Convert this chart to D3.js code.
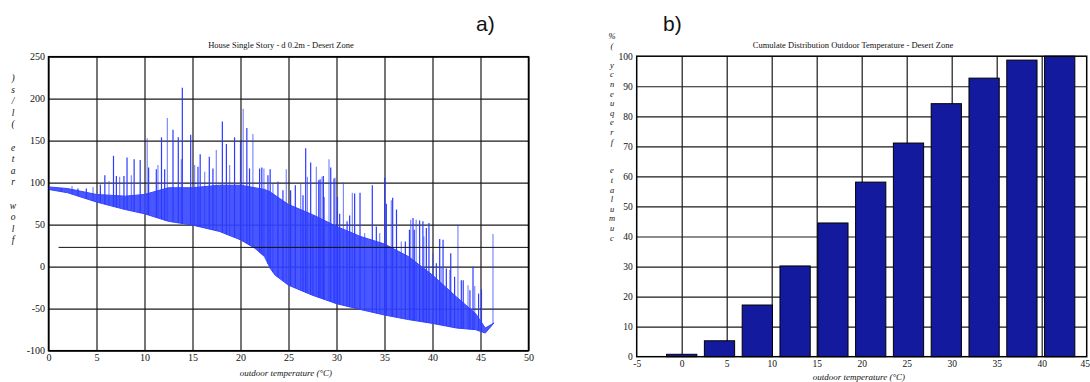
<!DOCTYPE html>
<html>
<head>
<meta charset="utf-8">
<script src="https://cdn.jsdelivr.net/npm/d3@7"></script>
<style>
  body { margin: 0; background: #fff; }
  text { font-family: "Liberation Serif", "DejaVu Serif", serif; fill: #111; }
  .panel-tag { font-family: "Liberation Sans", Arial, sans-serif; font-size: 21px; }
  .grid line { stroke: #1a1a1a; stroke-width: 1.2; }
  .grid path { display: none; }
  .ticks path, .ticks line { display: none; }
</style>
</head>
<body>
<div id="chart"></div>
<script>
// ---- panel a) flow rate vs outdoor temperature ----
// lower envelope of the flow curve
const envT = [0, 2, 5, 8, 10, 12.5, 15, 17.8, 20, 21.5, 22.5, 23.1, 23.6, 25, 27.5, 30, 32.5, 35, 37.5, 40, 42.5, 44.5, 45.5, 46.4];
const envV = [92, 88, 77, 68, 63, 54, 49.5, 42, 32, 22, 12, -2, -10, -22, -34, -44, -51, -57.5, -63, -67.5, -73, -75, -79, -67];
// top of the dense band of oscillations
const bandV = [95, 93, 86, 84, 86, 94, 94, 97, 97, 94, 92, 89, 85, 74, 62, 48, 36, 27, 12, -10, -36, -56, -73, -67];
// spikes (temperature, peak flow)
const spikeT = [1.34, 2.45, 3.07, 3.94, 4.64, 5.4, 5.87, 6.3, 6.77, 7.07, 7.41, 7.86, 8.18, 8.63, 8.92, 9.55, 10.28, 10.43, 11.23, 11.4, 11.77, 12.1, 12.38,
  12.97, 13.52, 13.84, 13.94, 14.81, 15.22, 15.57, 15.8, 16.27, 16.75, 17.13, 17.48, 18.11, 18.53, 18.87, 19.38, 20.0, 20.28, 20.66, 20.94, 21.29, 21.99, 22.22, 22.44, 22.86, 23.09, 23.38, 23.9, 24.42, 24.77,
  25.22, 25.71, 26.27, 26.51, 26.79, 26.97, 27.31, 27.55, 27.9, 28.15, 28.29, 28.49, 28.63, 28.7, 29.22, 29.4, 29.74, 29.85, 30.1, 30.33, 30.72, 31.1, 31.37, 31.65, 31.89, 32.45, 32.93, 33.73, 34.15, 34.5, 35.02, 35.19, 35.71, 35.85, 36.25, 36.75, 37.17,
  37.6, 37.73, 37.97, 38.1, 38.3, 38.66, 39.0, 39.1, 39.36, 39.63, 40.05, 40.4, 40.75, 40.9, 41.1, 41.44, 41.8, 41.9, 42.3, 42.65, 43.0, 43.2, 43.7, 43.9, 44.22, 44.4, 44.8, 45.1, 46.3];
const spikeV = [93, 96, 93, 93, 95, 98, 109, 102, 132, 108, 107, 108, 130, 109, 128, 127, 153, 118, 116, 121, 154, 116, 177,
  163, 154, 128, 213, 157, 121, 119, 134, 113, 131, 117, 139, 173, 146, 121, 154, 149, 188, 165, 117, 158, 117, 118, 117, 109, 116, 99, 101, 91, 116,
  91, 97, 99, 85, 141, 107, 124, 60, 119, 103, 104, 107, 108, 83, 128, 118, 105, 106, 83, 63, 100, 54, 61, 88, 87, 88, 40, 97, 48, 40, 106, 75, 79, 82, 68, 30, 30,
  44, 56, 58, 44, 56, 55, 54, 36, 46, 52, 16, 4, 33, 0, 32, -2, -4, 16, -12, 50, -16, -16, -22, -28, 0, -23, -32, -27, 39];
// horizontal reference line
const refT = [1.05, 50];
const refV = [23, 23];
const xTicksA = [0, 5, 10, 15, 20, 25, 30, 35, 40, 45, 50];
const yTicksA = [-100, -50, 0, 50, 100, 150, 200, 250];

// ---- panel b) cumulative distribution ----
const binCenters = [0, 4.2, 8.4, 12.6, 16.8, 21.0, 25.2, 29.4, 33.6, 37.8, 42.0];
const cumFreq = [0.8, 5.3, 17.2, 30.2, 44.5, 58.1, 71.1, 84.2, 92.7, 98.7, 100];
const xTicksB = [-5, 0, 5, 10, 15, 20, 25, 30, 35, 40, 45];
const yTicksB = [0, 10, 20, 30, 40, 50, 60, 70, 80, 90, 100];

const plain = d => String(d); // hyphen minus, like the original

const svg = d3.select('#chart').append('svg')
  .attr('width', 1090)
  .attr('height', 382)
  .style('background', '#fff');

// ===== panel a =====
const xA = d3.scaleLinear().domain([0, 50]).range([48.5, 528.5]);
const yA = d3.scaleLinear().domain([-100, 250]).range([350.7, 56.7]);

// grid
svg.append('g').attr('class', 'grid')
  .attr('transform', 'translate(0,350.7)')
  .call(d3.axisBottom(xA).tickValues(xTicksA).tickSize(-(350.7 - 56.7)).tickFormat(''));
svg.append('g').attr('class', 'grid')
  .attr('transform', 'translate(48.5,0)')
  .call(d3.axisLeft(yA).tickValues(yTicksA).tickSize(-(528.5 - 48.5)).tickFormat(''));

// data
const envScale = d3.scaleLinear().domain(envT).range(envV);
const band = d3.area()
  .x((d, i) => xA(envT[i]))
  .y0((d, i) => yA(envV[i]))
  .y1((d, i) => yA(bandV[i]));

svg.append('path')
  .datum(envT)
  .attr('d', band)
  .attr('fill', '#3545ff')
  .attr('fill-opacity', 0.9)
  .attr('stroke', '#3545ff')
  .attr('stroke-width', 1);

svg.append('g').selectAll('line')
  .data(spikeT)
  .join('line')
  .attr('x1', d => xA(d))
  .attr('x2', d => xA(d))
  .attr('y1', d => yA(envScale(d)))
  .attr('y2', (d, i) => yA(spikeV[i]))
  .attr('stroke', '#2b3aff')
  .attr('stroke-opacity', (d, i) => i % 3 === 1 ? 0.6 : 1)
  .attr('stroke-width', 1.2);

// reference line
svg.append('path')
  .datum(refT)
  .attr('d', d3.line().x(d => xA(d)).y((d, i) => yA(refV[i])))
  .attr('stroke', '#111')
  .attr('stroke-width', 1)
  .attr('fill', 'none');

// frame
svg.append('rect')
  .attr('x', 48.5).attr('y', 56.7)
  .attr('width', 480).attr('height', 294)
  .attr('fill', 'none').attr('stroke', '#000').attr('stroke-width', 1.5);

// tick labels
svg.append('g').attr('class', 'ticks')
  .attr('transform', 'translate(0,350.7)')
  .call(d3.axisBottom(xA).tickValues(xTicksA).tickFormat(plain).tickSize(0).tickPadding(3))
  .selectAll('text').style('font-size', '10px').attr('fill', '#111');
svg.append('g').attr('class', 'ticks')
  .attr('transform', 'translate(48.5,0)')
  .call(d3.axisLeft(yA).tickValues(yTicksA).tickFormat(plain).tickSize(0).tickPadding(3.5))
  .selectAll('text').style('font-size', '10px').attr('fill', '#111');

svg.append('text')
  .attr('x', 281).attr('y', 48)
  .attr('text-anchor', 'middle')
  .style('font-size', '8.5px')
  .text('House Single Story - d 0.2m - Desert Zone');
svg.append('text')
  .attr('x', 286).attr('y', 375.5)
  .attr('text-anchor', 'middle')
  .style('font-size', '9px').style('font-style', 'italic')
  .text('outdoor temperature (°C)');

// stacked y label (drawn reversed, like the original)
const labelA = ')s/l( etar wolf'.split('');
svg.append('g').selectAll('text')
  .data(labelA)
  .join('text')
  .attr('x', 13)
  .attr('y', (d, i) => 81 + i * 11.6)
  .attr('text-anchor', 'middle')
  .style('font-size', '9.5px').style('font-style', 'italic')
  .text(d => d);

svg.append('text').attr('class', 'panel-tag')
  .attr('x', 476).attr('y', 31).text('a)');

// ===== panel b =====
const xB = d3.scaleLinear().domain([-5, 45]).range([636.7, 1086.7]);
const yB = d3.scaleLinear().domain([0, 100]).range([356.7, 56.2]);

svg.append('g').attr('class', 'grid')
  .attr('transform', 'translate(0,356.7)')
  .call(d3.axisBottom(xB).tickValues(xTicksB.slice(1, -1)).tickSize(-(356.7 - 56.2)).tickFormat(''));
svg.append('g').attr('class', 'grid')
  .attr('transform', 'translate(636.7,0)')
  .call(d3.axisLeft(yB).tickValues(yTicksB.slice(1, -1)).tickSize(-450).tickFormat(''));

const barW = xB(3.36) - xB(0);
svg.append('g').selectAll('rect')
  .data(binCenters)
  .join('rect')
  .attr('x', d => xB(d) - barW / 2)
  .attr('width', barW)
  .attr('y', (d, i) => yB(cumFreq[i]))
  .attr('height', (d, i) => yB(0) - yB(cumFreq[i]))
  .attr('fill', '#141a9e')
  .attr('stroke', '#000')
  .attr('stroke-width', 1);

svg.append('rect')
  .attr('x', 636.7).attr('y', 56.2)
  .attr('width', 450).attr('height', 300.5)
  .attr('fill', 'none').attr('stroke', '#000').attr('stroke-width', 1.5);

svg.append('g').attr('class', 'ticks')
  .attr('transform', 'translate(0,356.7)')
  .call(d3.axisBottom(xB).tickValues(xTicksB).tickFormat(plain).tickSize(0).tickPadding(4))
  .selectAll('text').style('font-size', '9.5px').attr('fill', '#111')
  .attr('dx', d => d === 45 ? -2 : 0);
svg.append('g').attr('class', 'ticks')
  .attr('transform', 'translate(636.7,0)')
  .call(d3.axisLeft(yB).tickValues(yTicksB).tickFormat(plain).tickSize(0).tickPadding(4))
  .selectAll('text').style('font-size', '9.5px').attr('fill', '#111');

svg.append('text')
  .attr('x', 853).attr('y', 48)
  .attr('text-anchor', 'middle')
  .style('font-size', '8.5px')
  .text('Cumulate Distribution Outdoor Temperature - Desert Zone');
svg.append('text')
  .attr('x', 859).attr('y', 380)
  .attr('text-anchor', 'middle')
  .style('font-size', '9px').style('font-style', 'italic')
  .text('outdoor temperature (°C)');

const labelB = '%( ycneuqerf  etalumuc'.split('');
svg.append('g').selectAll('text')
  .data(labelB)
  .join('text')
  .attr('x', 612)
  .attr('y', (d, i) => 39 + i * 9.6)
  .attr('text-anchor', 'middle')
  .style('font-size', '8.5px').style('font-style', 'italic')
  .text(d => d);

svg.append('text').attr('class', 'panel-tag')
  .attr('x', 663).attr('y', 31).text('b)');
</script>
</body>
</html>
